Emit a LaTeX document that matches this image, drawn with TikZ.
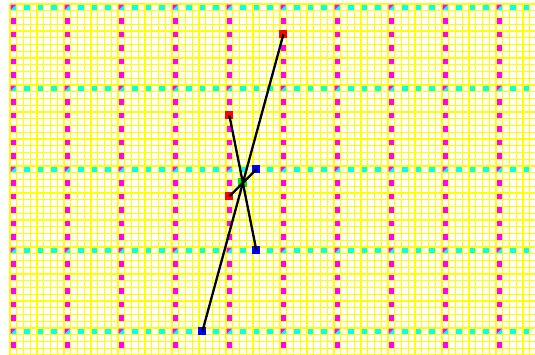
\documentclass[tikz,border=0pt]{standalone}
\definecolor{ylw}{RGB}{255,255,0}
\definecolor{mag}{RGB}{255,0,255}
\definecolor{cya}{RGB}{0,255,255}
\definecolor{rd}{RGB}{255,0,0}
\definecolor{bl}{RGB}{0,0,255}
\definecolor{gr}{RGB}{0,230,0}
\begin{document}
\begin{tikzpicture}[x=6.75pt,y=-6.75pt,
  gridline/.style={draw=ylw,line width=1.4pt},
  mk/.style={rectangle,minimum size=8pt,inner sep=0pt,draw=none},
  link/.style={draw=black,line width=2.3pt}]
\useasboundingbox (-1.4815,-0.5926) rectangle (77.7778,51.8519);
\clip (-1.4815,-0.5926) rectangle (77.7778,51.8519);
\fill[white] (-1.4815,-0.5926) rectangle (77.7778,51.8519);
% yellow grid
\foreach \i in {0,...,78} \draw[gridline] (\i,0) -- (\i,53);
\foreach \j in {0,...,52} \draw[gridline] (0,\j) -- (79,\j);
% magenta dots along major columns
\foreach \i in {0,8,...,72} \foreach \j in {0,2,...,50}
  \fill[mag] (\i+0.08,\j+0.08) rectangle (\i+0.92,\j+0.92);
% cyan dots along major rows
\foreach \j in {0,12,...,48} \foreach \i in {0,2,...,76}
  \fill[cya] (\i+0.08,\j+0.08) rectangle (\i+0.92,\j+0.92);
% corner cells split
\foreach \i in {0,8,...,72} \foreach \j in {0,12,...,48} {
  \fill[mag] (\i+0.08,\j+0.08) -- (\i+0.92,\j+0.08) -- (\i+0.08,\j+0.92) -- cycle;
  \fill[cya] (\i+0.92,\j+0.08) -- (\i+0.92,\j+0.92) -- (\i+0.08,\j+0.92) -- cycle;
}
% markers
\node[mk,fill=rd] (r1) at (40.5,4.5) {};
\node[mk,fill=bl] (b1) at (28.5,48.5) {};
\node[mk,fill=rd] (r2) at (32.5,16.5) {};
\node[mk,fill=bl] (b2) at (36.5,36.5) {};
\node[mk,fill=rd] (r3) at (32.5,28.5) {};
\node[mk,fill=bl] (b3) at (36.5,24.5) {};
\node[mk,fill=gr,minimum size=9pt] (g) at (34.5,26.5) {};
% connectors
\draw[link] (r1.center) -- (b1.center);
\draw[link] (r2.center) -- (b2.center);
\draw[link] (r3.center) -- (g.center);
\draw[link] (b3.center) -- (g.center);
\end{tikzpicture}
\end{document}
